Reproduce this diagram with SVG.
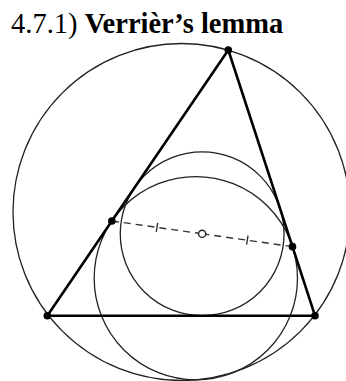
<svg xmlns="http://www.w3.org/2000/svg" width="346" height="381" viewBox="0 0 346 381">
<style>
.circ{fill:none;stroke:#222;stroke-width:1.3}
.tri{fill:none;stroke:#000;stroke-width:2.6;stroke-linejoin:round}
.dash{stroke:#333;stroke-width:1.4;stroke-dasharray:7 5;fill:none}
.tick{stroke:#333;stroke-width:1.4}
.dot{fill:#000}
.title{font-family:"Liberation Serif","Times New Roman",serif;font-size:28.5px;fill:#000}
</style>
<rect width="346" height="381" fill="#fff"/>
<text class="title" x="11" y="32.5"><tspan>4.7.1) </tspan><tspan font-weight="bold">Verrièr’s lemma</tspan></text>
<g id="circumcircle"><circle class="circ" cx="181.5" cy="212" r="168.5"/></g>
<g id="incircle"><circle class="circ" cx="202.15" cy="233.8" r="81.9"/></g>
<g id="mixtilinear"><circle class="circ" cx="195.83" cy="278.19" r="101.65"/></g>
<g id="triangle"><polygon class="tri" points="228.3,50 47.3,315.7 315,315.7"/></g>
<g id="connectors">
<line class="dash" x1="111.84" y1="220.95" x2="198.7" y2="233.3"/>
<line class="dash" x1="292.47" y1="246.65" x2="205.6" y2="234.3"/>
<line class="tick" x1="157.7" y1="222.9" x2="156.3" y2="231.9"/>
<line class="tick" x1="248" y1="235.7" x2="246.6" y2="244.7"/>
</g>
<g id="A"><circle class="dot" cx="228.3" cy="50" r="3.8"/></g>
<g id="B"><circle class="dot" cx="47.3" cy="315.7" r="3.8"/></g>
<g id="C"><circle class="dot" cx="315" cy="315.7" r="3.8"/></g>
<g id="P"><circle class="dot" cx="111.84" cy="220.95" r="3.8"/></g>
<g id="Q"><circle class="dot" cx="292.47" cy="246.65" r="3.8"/></g>
<g id="I"><circle cx="202.15" cy="233.8" r="3.6" fill="#fff" stroke="#222" stroke-width="1.4"/></g>
</svg>
